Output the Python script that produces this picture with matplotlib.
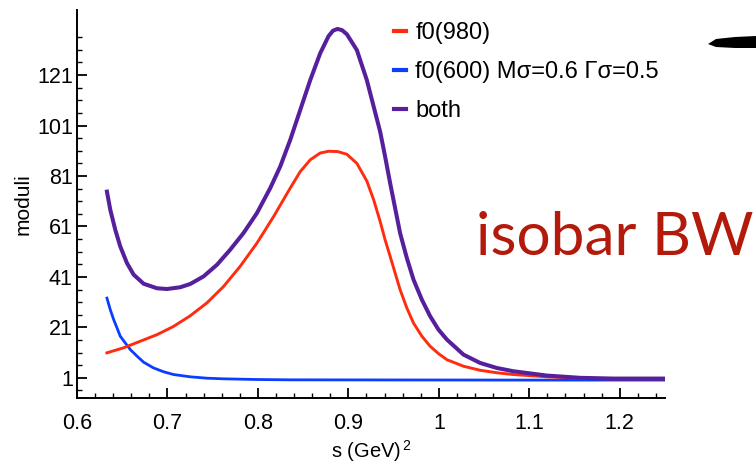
import matplotlib
matplotlib.use("Agg")
import matplotlib.pyplot as plt
from matplotlib.patches import Polygon

plt.rcParams['font.family'] = ['Liberation Sans', 'DejaVu Sans']
plt.rcParams['mathtext.fontset'] = 'custom'
plt.rcParams['mathtext.rm'] = 'Liberation Sans'
plt.rcParams['mathtext.default'] = 'regular'

# ---- data ----
red_x = [0.6331, 0.6515, 0.6699, 0.6884, 0.7068, 0.7252, 0.7436, 0.7620, 0.7804, 0.7989,
         0.8173, 0.8357, 0.8467, 0.8578, 0.8688, 0.8780, 0.8880, 0.8983, 0.9094, 0.9204,
         0.9280, 0.9351, 0.9406, 0.9462, 0.9517, 0.9572, 0.9646, 0.9720, 0.9812, 0.9904,
         0.9996, 1.0088, 1.0272, 1.0456, 1.0641, 1.0825, 1.1193, 1.1561, 1.1930, 1.25]
red_y = [10.9, 12.9, 15.5, 18.1, 21.4, 25.6, 30.7, 37.2, 45.2, 54.4,
         64.9, 76.2, 82.7, 87.4, 90.1, 90.8, 90.7, 89.6, 86.0, 79.0,
         71.5, 63.0, 55.7, 49.1, 42.5, 35.9, 28.7, 22.7, 17.5, 13.5,
         10.6, 8.2, 5.6, 4.0, 3.0, 2.3, 1.4, 0.9, 0.6, 0.6]

blue_x = [0.6331, 0.6368, 0.6405, 0.6442, 0.6478, 0.6534, 0.6589, 0.6663, 0.6736, 0.6847,
          0.6957, 0.7068, 0.7252, 0.7436, 0.7620, 0.7989, 0.8357, 0.95, 1.1, 1.25]
blue_y = [32.6, 28.0, 24.1, 20.8, 17.5, 14.8, 12.2, 9.6, 7.2, 4.9,
          3.4, 2.3, 1.4, 0.85, 0.6, 0.33, 0.2, 0.15, 0.1, 0.1]

both_x = [0.6331, 0.6368, 0.6423, 0.6478, 0.6552, 0.6626, 0.6736, 0.6884, 0.6994, 0.7141,
          0.7252, 0.7399, 0.7547, 0.7694, 0.7841, 0.7989, 0.8136, 0.8246, 0.8357, 0.8467,
          0.8578, 0.8688, 0.8780, 0.8830, 0.8880, 0.8930, 0.8983, 0.9094, 0.9204, 0.9351,
          0.9406, 0.9462, 0.9517, 0.9572, 0.9646, 0.9720, 0.9812, 0.9904, 0.9996, 1.0088,
          1.0272, 1.0456, 1.0641, 1.0825, 1.1193, 1.1561, 1.1930, 1.25]
both_y = [74.8, 67.6, 59.7, 53.1, 46.5, 41.9, 38.3, 36.5, 36.2, 36.9,
          38.2, 41.2, 45.8, 51.8, 58.4, 66.3, 76.2, 84.7, 95.3, 107.1,
          119.0, 129.6, 136.4, 138.6, 139.3, 138.8, 137.2, 130.9, 119.0, 98.6,
          88.7, 78.1, 68.2, 58.3, 48.5, 39.9, 32.0, 25.4, 20.1, 16.2,
          10.2, 6.9, 4.9, 3.6, 1.9, 1.0, 0.7, 0.7]

labels = ["f0(980)", "f0(600) M\u03c3=0.6 \u0393\u03c3=0.5", "both"]
x_ticks = [0.6, 0.7, 0.8, 0.9, 1.0, 1.1, 1.2]
x_tick_labels = ["0.6", "0.7", "0.8", "0.9", "1", "1.1", "1.2"]
y_ticks = [1, 21, 41, 61, 81, 101, 121]
y_minor = [v for v in range(-4, 137, 5) if v not in y_ticks]
x_minor = [0.6 + 0.02 * i for i in range(33) if i % 5 != 0]

fig = plt.figure(figsize=(7.56, 4.65), dpi=100)
ax = fig.add_axes([77 / 756, 1 - 398 / 465, (665 - 77) / 756, (398 - 10) / 465])

ax.plot(red_x, red_y, color='#ff2d0f', lw=2.1, label=labels[0], zorder=3,
        solid_joinstyle='round')
ax.plot(blue_x, blue_y, color='#0b3dff', lw=2.0, label=labels[1], zorder=2,
        solid_joinstyle='round')
ax.plot(both_x, both_y, color='#56209c', lw=2.9, label=labels[2], zorder=4,
        solid_joinstyle='round')

ax.set_xlim(0.6, 1.25)
ax.set_ylim(-7, 146.8)
ax.set_xticks(x_ticks)
ax.set_xticklabels(x_tick_labels)
ax.set_xticks(x_minor, minor=True)
ax.set_yticks(y_ticks)
ax.set_yticks(y_minor, minor=True)

for s in ['top', 'right']:
    ax.spines[s].set_visible(False)
for s in ['left', 'bottom']:
    ax.spines[s].set_linewidth(1.4)
ax.tick_params(which='major', direction='in', length=7, width=1.3, labelsize=15.5)
ax.tick_params(which='minor', direction='in', length=3.3, width=1.0)
ax.tick_params(axis='x', which='major', pad=11)
ax.tick_params(axis='y', which='major', pad=3)

ax.set_xlabel(r"s (GeV)$^{\,2}$", fontsize=14.5, labelpad=2.5)
ax.set_ylabel("moduli", fontsize=15, labelpad=3)

leg = ax.legend(loc='upper left', bbox_to_anchor=(394 / 756, 1 - 22 / 465),
                bbox_transform=fig.transFigure, frameon=False, fontsize=17,
                handlelength=0.5, handletextpad=0.4, labelspacing=0.72,
                borderpad=0, borderaxespad=0)
for h in leg.get_lines():
    h.set_linewidth(3.0)

fig.text(476 / 756, 1 - 255 / 465, "isobar BW", color='#b31a0b', fontsize=43.5,
         family=['Lato', 'DejaVu Sans'], ha='left', va='baseline')

# decorative brush stroke at the top right
stroke = Polygon([[708 / 756, 1 - 44 / 465], [716 / 756, 1 - 39 / 465], [735 / 756, 1 - 37 / 465],
                  [756 / 756, 1 - 36 / 465], [756 / 756, 1 - 48 / 465], [735 / 756, 1 - 48 / 465],
                  [716 / 756, 1 - 47 / 465]],
                 closed=True, transform=fig.transFigure, color='black', lw=0)
fig.patches.append(stroke)

fig.savefig("out.png", dpi=100)
